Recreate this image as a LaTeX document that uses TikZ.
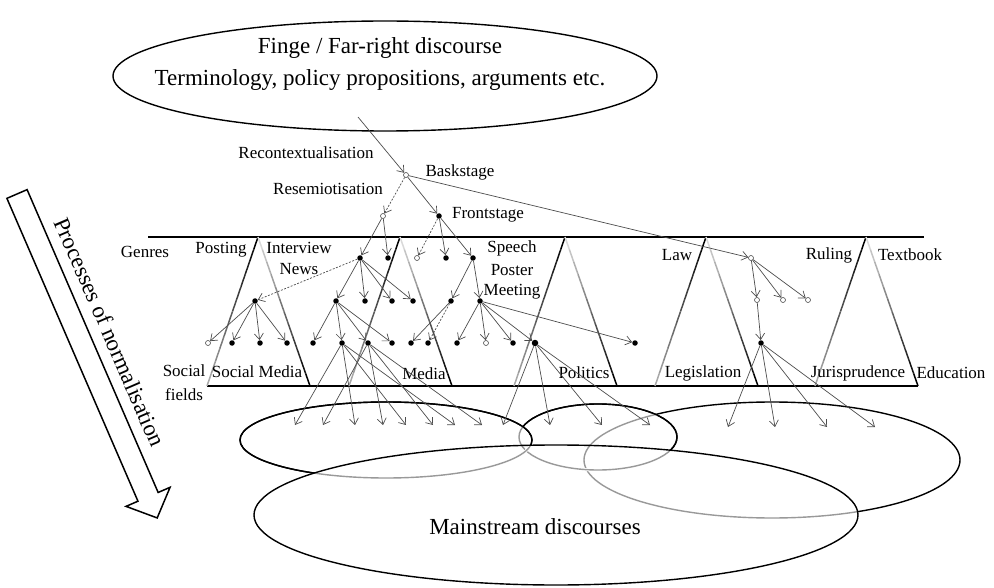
\documentclass[tikz,border=0pt]{standalone}
\usepackage{fontspec}
\setmainfont{Liberation Serif}
\usetikzlibrary{arrows.meta}
\tikzset{
	dot/.style={circle,fill=black,inner sep=0pt,minimum size=5.5pt},
	hole/.style={circle,draw=black!70,fill=white,inner sep=0pt,minimum size=5pt,line width=0.6pt},
	link/.style={draw=black!70,line width=0.7pt,-{Straight Barb[length=6pt,width=9pt]}},
	dlink/.style={link,dash pattern=on 2pt off 1.5pt},
	lbl/.style={inner sep=0pt,font=\fontsize{17}{20}\selectfont},
	big/.style={inner sep=0pt,align=center,font=\fontsize{23}{32}\selectfont},
	rim/.style={line width=1.4pt},
	ghost/.style={line width=1.4pt,black!40},
	wipe/.style={line width=3pt,white},
}

\begin{document}
\begin{tikzpicture}[x=1pt,y=-1pt]
\useasboundingbox (0,0) rectangle (994,588);

% fringe discourse
\draw[rim] (385,76) ellipse [x radius=272, y radius=55];
\node[big] (fringe) at (380,64) {Finge / Far-right discourse\\Terminology, policy propositions, arguments etc.};
\coordinate (rc) at (358,117);

% genres and social fields
\draw[line width=2pt] (148,237) -- (924,237);
\draw[line width=2.4pt] (207,386) -- (918,386);
\foreach \ax in {258,400,565,706,866}
	\foreach \i in {0,...,11}{
		\pgfmathsetmacro\sa{\i/12}
		\pgfmathsetmacro\sb{(\i+1)/12}
		\pgfmathtruncatemacro\cl{100-72*\sa}
		\pgfmathtruncatemacro\cr{8+92*\sb}
		\draw[line width=1.5pt,black!\cl] ({\ax-51*\sa},{237+149*\sa}) -- ({\ax-51*\sb},{237+149*\sb});
		\draw[line width=1.5pt,black!\cr] ({\ax+52*\sa},{237+149*\sa}) -- ({\ax+52*\sb},{237+149*\sb});
	}

% processes of normalisation
\draw[line width=1.5pt,shift={(17,194)},rotate=-66.6]
	(0,-11) -- (330,-11) -- (330,-24) -- (353,0) -- (330,24) -- (330,11) -- (0,11) -- cycle;
\node[big,rotate=-66.6] (norm) at (110,332) {Processes of normalisation};

% labels
\node[lbl] (lrec) at (306,153) {Recontextualisation};
\node[lbl] (lres) at (328,189) {Resemiotisation};
\node[lbl] (lback) at (460,172) {Baskstage};
\node[lbl] (lfront) at (488,215) {Frontstage};
\node[lbl] (lgen) at (145,252) {Genres};
\node[lbl] (lpost) at (221,250) {Posting};
\node[lbl] (lint) at (299,248) {Interview};
\node[lbl] (lnews) at (299,269) {News};
\node[lbl] (lspeech) at (512,248) {Speech};
\node[lbl] (lposter) at (512,270) {Poster};
\node[lbl] (lmeet) at (512,292) {Meeting};
\node[lbl] (llaw) at (677,255) {Law};
\node[lbl] (lrul) at (829,255) {Ruling};
\node[lbl] (ltext) at (910,255) {Textbook};
\node[lbl,align=center,font=\fontsize{17}{24}\selectfont] (lfield) at (184,383) {Social\\fields};
\node[lbl] (lsm) at (257,372) {Social Media};
\node[lbl] (lmedia) at (424,374) {Media};
\node[lbl] (lpol) at (584,373) {Politics};
\node[lbl] (lleg) at (703,373) {Legislation};
\node[lbl] (ljur) at (858,373) {Jurisprudence};
\node[lbl] (ledu) at (951,373) {Education};

% discourses of the fields, back to front
\draw[rim] (772,460) ellipse [x radius=188, y radius=58];
\draw[rim] (598,437) ellipse [x radius=79, y radius=33];
\begin{scope}
	\clip (598,437) ellipse [x radius=79, y radius=33];
	\draw[wipe] (772,460) ellipse [x radius=188, y radius=58];
	\draw[ghost] (772,460) ellipse [x radius=188, y radius=58];
\end{scope}
\draw[rim] (598,437) ellipse [x radius=79, y radius=33];
\draw[rim] (386,440) ellipse [x radius=146, y radius=38];
\begin{scope}
	\clip (386,440) ellipse [x radius=146, y radius=38];
	\draw[wipe] (598,437) ellipse [x radius=79, y radius=33];
	\draw[ghost] (598,437) ellipse [x radius=79, y radius=33];
\end{scope}
\draw[rim] (386,440) ellipse [x radius=146, y radius=38];
\begin{scope}
	\clip (556,515) ellipse [x radius=302, y radius=70];
	\foreach \cx/\cy/\rx/\ry in {772/460/188/58,598/437/79/33,386/440/146/38}{
		\draw[wipe] (\cx,\cy) ellipse [x radius=\rx, y radius=\ry];
		\draw[ghost] (\cx,\cy) ellipse [x radius=\rx, y radius=\ry];
	}
\end{scope}
\draw[rim] (556,515) ellipse [x radius=302, y radius=70];
\node[big] (main) at (535,527) {Mainstream discourses};

% stages
\node[hole] (bk) at (406,175) {};
\node[hole] (rs) at (383,216) {};
\node[dot] (fs) at (439,216) {};
\node[dot] (a1) at (360,258) {};
\node[dot] (a2) at (388,258) {};
\node[hole] (a3) at (417,258) {};
\node[dot] (a4) at (446,258) {};
\node[dot] (a5) at (473,258) {};
\node[hole] (law) at (751,258) {};
\node[dot] (b0) at (255,301) {};
\foreach \n/\x in {b1/336,b2/365,b3/392,b4/413,b5/451,b6/480}
	\node[dot] (\n) at (\x,301) {};
\foreach \n/\x in {lw1/757,lw2/783,lw3/808}
	\node[hole] (\n) at (\x,300) {};
\node[hole] (c1) at (208,343) {};
\foreach \n/\x in {c2/232,c3/260,c4/287,c5/313,c6/342,c7/368,c8/392,c9/411,c10/428,c11/457,c13/513,c15/635}
	\node[dot] (\n) at (\x,343) {};
\node[hole] (c12) at (486,343) {};
\node[dot,minimum size=6.5pt] (c14) at (535,343) {};
\node[dot] (lw4) at (761,343) {};
\foreach \n/\x in {t1/295,t2/323,t3/355,t4/383,t5/406,t6/433,t7/455,t8/482,p1/503,p2/550,p3/602,p4/650}
	\coordinate (\n) at (\x,425);
\foreach \n/\x in {g1/728,g2/775,g3/827,g4/875}
	\coordinate (\n) at (\x,427);

% connectors
\draw[link] (rc) -- (bk);
\foreach \p/\q in {bk/fs,bk/law,rs/a1,rs/a2,fs/a4,fs/a5,a1/b1,a1/b2,a1/b3,a1/b4,a5/b5,a5/b6,
	b0/c1,b0/c2,b0/c3,b0/c4,b1/c5,b1/c6,b1/c7,b1/c8,b5/c9,b6/c11,b6/c12,b6/c13,b6/c14,b6/c15,
	law/lw1,law/lw2,law/lw3,lw1/lw4}
	\draw[link] (\p) -- (\q);
\foreach \p/\q in {bk/rs,fs/a3,a1/b0,b5/c10}
	\draw[dlink] (\p) -- (\q);
\foreach \q in {t1,t3,t5,t7}
	\draw[link] (c6) -- (\q);
\foreach \q in {t2,t4,t6,t8}
	\draw[link] (c7) -- (\q);
\foreach \q in {p1,p2,p3,p4}
	\draw[link] (c14) -- (\q);
\foreach \q in {g1,g2,g3,g4}
	\draw[link] (lw4) -- (\q);
\end{tikzpicture}
\end{document}
